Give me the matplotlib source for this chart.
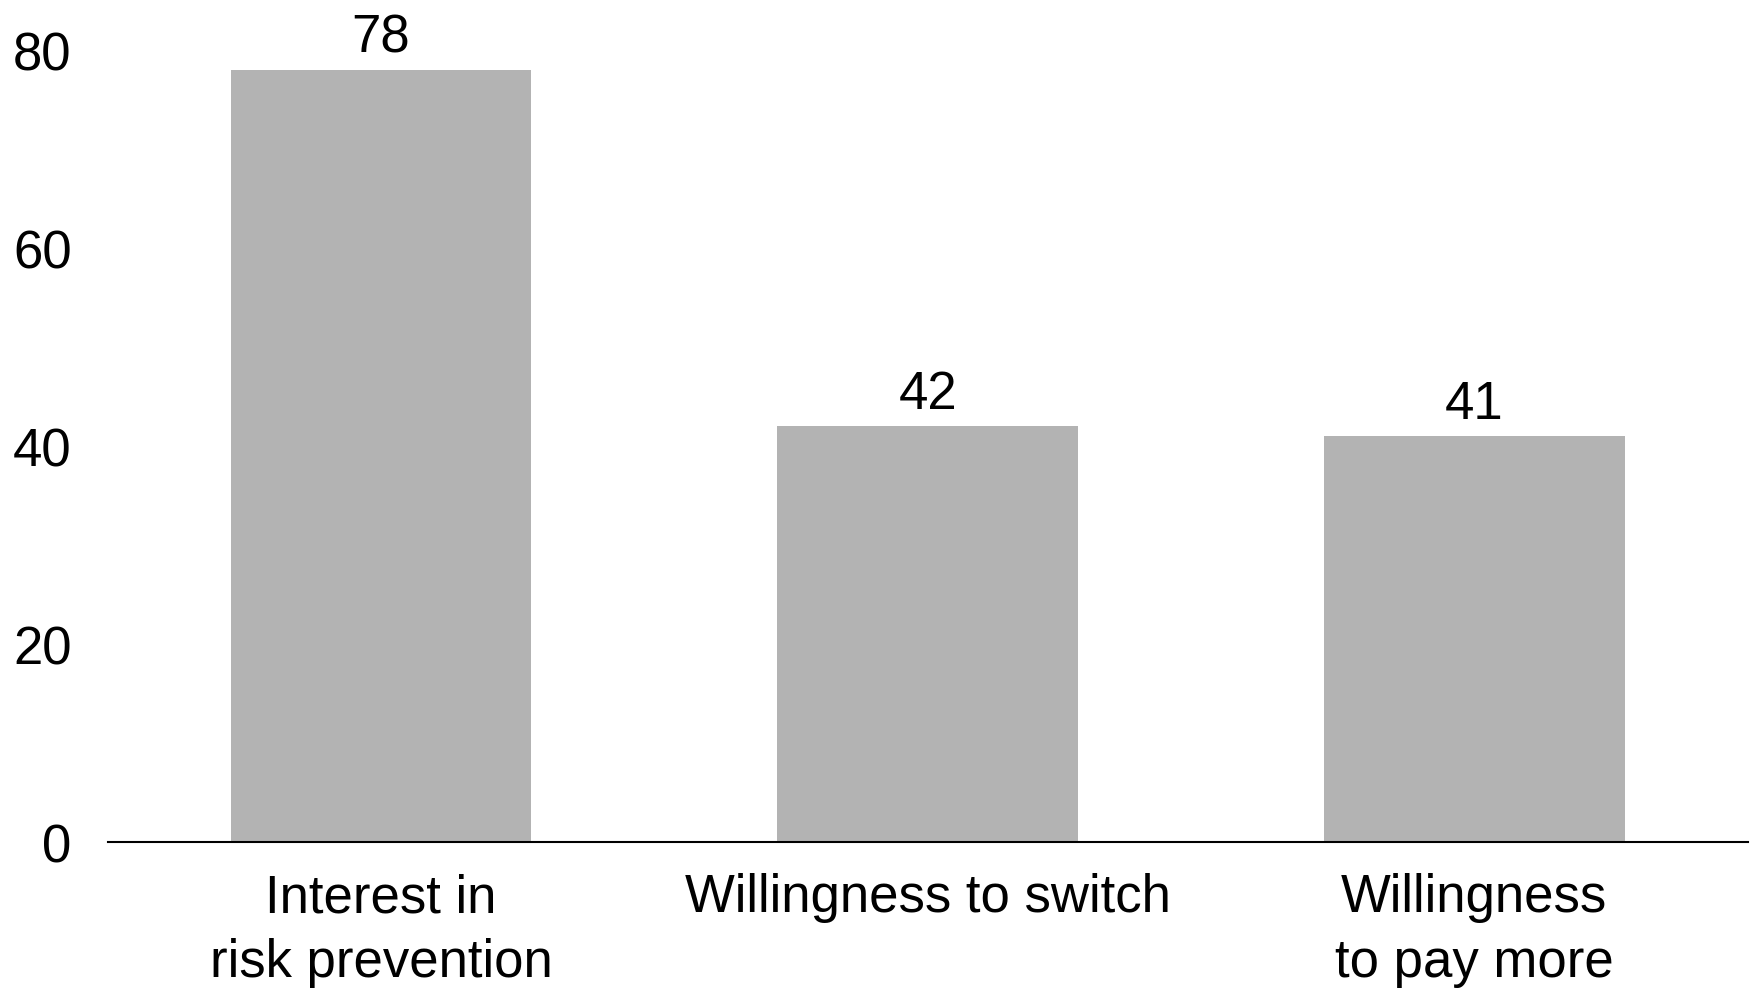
import matplotlib
matplotlib.use('Agg')
import matplotlib.pyplot as plt
import numpy as np

plt.rcParams['font.family'] = ['Liberation Sans', 'DejaVu Sans']

categories = ['Interest in\nrisk prevention', 'Willingness to switch', 'Willingness\nto pay more']
values = [78, 42, 41]
y_ticks = [0, 20, 40, 60, 80]

font_sz = 38
bar_color = '#b3b3b3'

fig = plt.figure(figsize=(17.57, 9.95), dpi=100)
ax = fig.add_axes([0.0613, 0.1531, 0.9334, 0.7954])

x = np.arange(len(categories))
bars = ax.bar(x, values, width=0.55, color=bar_color, linewidth=0)

# value labels sit just above each bar
for xi, v in zip(x, values):
    ax.annotate(str(v), xy=(xi, v), xytext=(0, 13), textcoords='offset points',
                ha='center', va='baseline', fontsize=font_sz, color='black')

ax.set_xlim(-0.5, 2.5)
ax.set_ylim(0, 80)
ax.set_yticks(y_ticks)
ax.set_yticklabels([str(t) for t in y_ticks], fontsize=font_sz)
ax.set_xticks(x)
ax.set_xticklabels(categories, fontsize=font_sz, linespacing=1.38)

ax.tick_params(axis='both', length=0)
ax.tick_params(axis='y', pad=26)
ax.tick_params(axis='x', pad=22)

for side in ['top', 'right', 'left']:
    ax.spines[side].set_visible(False)
ax.spines['bottom'].set_linewidth(1.5)
ax.spines['bottom'].set_color('black')

plt.savefig('out.png', dpi=100)
